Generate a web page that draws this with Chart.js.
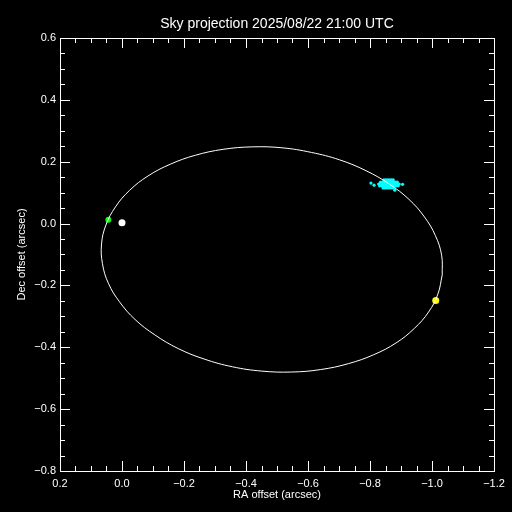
<html>
<head>
<title>Sky projection</title>
<script src="https://cdn.jsdelivr.net/npm/chart.js"></script>
<style>
  body { margin: 0; background: #000; }
  #wrap { width: 512px; height: 512px; }
</style>
</head>
<body>
<div id="wrap"><canvas id="skyChart" width="512" height="512"></canvas></div>
<script>
// orbit track (RA, Dec in arcsec)
const orbitRA = [-1.033, -1.019, -0.989, -0.943, -0.884, -0.812, -0.730, -0.641, -0.547, -0.451,
  -0.356, -0.265, -0.181, -0.106, -0.042, 0.008, 0.044, 0.063, 0.066, 0.052,
  0.021, -0.024, -0.084, -0.156, -0.237, -0.326, -0.420, -0.516, -0.611, -0.702,
  -0.787, -0.862, -0.926, -0.976, -1.011, -1.031, -1.033];
const orbitDec = [-0.166, -0.228, -0.286, -0.339, -0.386, -0.424, -0.453, -0.472, -0.480, -0.477,
  -0.463, -0.438, -0.404, -0.360, -0.310, -0.253, -0.193, -0.130, -0.066, -0.005,
  0.054, 0.107, 0.154, 0.192, 0.221, 0.240, 0.248, 0.245, 0.230, 0.206,
  0.171, 0.128, 0.078, 0.021, -0.039, -0.102, -0.166];

// cloud of predicted positions (cyan)
const cloudRA = [
  -0.845, -0.851, -0.857, -0.863, -0.869, -0.875,
  -0.834, -0.840, -0.846, -0.852, -0.858, -0.864, -0.870, -0.876, -0.882, -0.888,
  -0.828, -0.834, -0.840, -0.846, -0.852, -0.858, -0.864, -0.870, -0.876, -0.882, -0.888, -0.894,
  -0.831, -0.837, -0.843, -0.849, -0.855, -0.861, -0.867, -0.873, -0.879, -0.885, -0.891,
  -0.842, -0.848, -0.854, -0.860, -0.866, -0.872, -0.878,
  -0.803, -0.813, -0.905, -0.880];
const cloudDec = [
  0.141, 0.141, 0.141, 0.141, 0.141, 0.141,
  0.134, 0.134, 0.134, 0.134, 0.134, 0.134, 0.134, 0.134, 0.134, 0.134,
  0.128, 0.128, 0.128, 0.128, 0.128, 0.128, 0.128, 0.128, 0.128, 0.128, 0.128, 0.128,
  0.122, 0.122, 0.122, 0.122, 0.122, 0.122, 0.122, 0.122, 0.122, 0.122, 0.122,
  0.115, 0.115, 0.115, 0.115, 0.115, 0.115, 0.115,
  0.131, 0.124, 0.127, 0.108];

// single markers
const starPos = [0.0, 0.003];
const greenPos = [0.044, 0.012];
const yellowPos = [-1.012, -0.249];

const xTicks = [0.2, 0.0, -0.2, -0.4, -0.6, -0.8, -1.0, -1.2];
const yTicks = [-0.8, -0.6, -0.4, -0.2, 0.0, 0.2, 0.4, 0.6];

const toXY = (xs, ys) => xs.map((x, i) => ({x: x, y: ys[i]}));

function fmt(v) {
    if (Math.abs(v) < 1e-9) return '0.0';
    return v.toFixed(1).replace('-', '\u2212');
}

const FONT = 'Liberation Sans';

// box with inward major/minor ticks on all four sides, plus title
const framePlugin = {
    id: 'frame',
    afterDraw(chart) {
        const ctx = chart.ctx;
        const a = chart.chartArea;
        const xs = chart.scales.x, ys = chart.scales.y;
        ctx.save();
        ctx.strokeStyle = '#fff';
        ctx.lineWidth = 1;
        ctx.strokeRect(Math.round(a.left) + 0.5, Math.round(a.top) + 0.5,
            Math.round(a.right - a.left), Math.round(a.bottom - a.top));
        ctx.beginPath();
        for (let i = 0; i <= 28; i++) {
            const v = -1.2 + i * 0.05;
            const len = (i % 4 === 0) ? 10 : 5;
            const px = Math.round(xs.getPixelForValue(v)) + 0.5;
            ctx.moveTo(px, a.bottom); ctx.lineTo(px, a.bottom - len);
            ctx.moveTo(px, a.top); ctx.lineTo(px, a.top + len);
        }
        for (let i = 0; i <= 28; i++) {
            const v = -0.8 + i * 0.05;
            const len = (i % 4 === 0) ? 10 : 5;
            const py = Math.round(ys.getPixelForValue(v)) + 0.5;
            ctx.moveTo(a.left, py); ctx.lineTo(a.left + len, py);
            ctx.moveTo(a.right, py); ctx.lineTo(a.right - len, py);
        }
        ctx.stroke();
        ctx.fillStyle = '#fff';
        ctx.font = '14px "' + FONT + '"';
        ctx.textAlign = 'center';
        ctx.textBaseline = 'middle';
        ctx.fillText('Sky projection 2025/08/22 21:00 UTC', (a.left + a.right) / 2, 24);
        ctx.restore();
    }
};

new Chart(document.getElementById('skyChart'), {
    type: 'scatter',
    data: {
        datasets: [
            {
                label: 'orbit',
                data: toXY(orbitRA, orbitDec),
                showLine: true,
                borderColor: '#ffffff',
                borderWidth: 1,
                pointRadius: 0,
                tension: 0.4
            },
            {
                label: 'cloud',
                data: toXY(cloudRA, cloudDec),
                pointRadius: 1.6,
                pointBorderWidth: 0,
                backgroundColor: '#00ffff'
            },
            {
                label: 'star',
                data: [{x: starPos[0], y: starPos[1]}],
                pointRadius: 3.5,
                pointBorderWidth: 0,
                backgroundColor: '#ffffff'
            },
            {
                label: 'green',
                data: [{x: greenPos[0], y: greenPos[1]}],
                pointRadius: 3,
                pointBorderWidth: 0,
                backgroundColor: '#00ff00'
            },
            {
                label: 'yellow',
                data: [{x: yellowPos[0], y: yellowPos[1]}],
                pointRadius: 3.5,
                pointBorderWidth: 0,
                backgroundColor: '#ffff00'
            }
        ]
    },
    options: {
        responsive: false,
        animation: false,
        layout: { padding: { top: 38, right: 18, left: 0, bottom: 0 } },
        plugins: { legend: { display: false }, tooltip: { enabled: false } },
        scales: {
            x: {
                type: 'linear',
                reverse: true,
                min: -1.2,
                max: 0.2,
                afterBuildTicks(s) { s.ticks = xTicks.map(v => ({value: v})); },
                afterFit(s) { s.height = 41; },
                ticks: { color: '#fff', font: { family: FONT, size: 11 }, padding: 6, callback: fmt, maxRotation: 0 },
                grid: { display: false, drawTicks: false },
                border: { display: false },
                title: { display: true, text: 'RA offset (arcsec)', color: '#fff',
                    font: { family: FONT, size: 11 }, padding: { top: 0, bottom: 10 } }
            },
            y: {
                type: 'linear',
                min: -0.8,
                max: 0.6,
                afterBuildTicks(s) { s.ticks = yTicks.map(v => ({value: v})); },
                afterFit(s) { s.width = 60; },
                ticks: { color: '#fff', font: { family: FONT, size: 11 }, padding: 4, callback: fmt },
                grid: { display: false, drawTicks: false },
                border: { display: false },
                title: { display: true, text: 'Dec offset (arcsec)', color: '#fff',
                    font: { family: FONT, size: 11 }, padding: { top: 15, bottom: 0 } }
            }
        }
    },
    plugins: [framePlugin]
});
</script>
</body>
</html>
